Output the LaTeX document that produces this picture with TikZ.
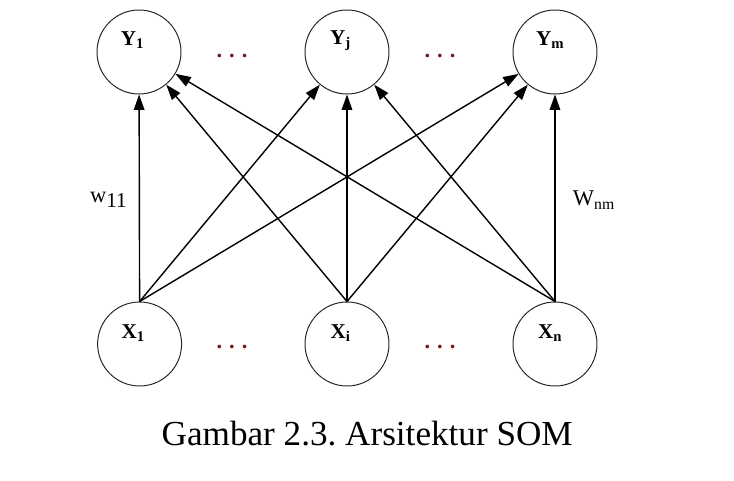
\documentclass[tikz,border=0pt]{standalone}
\usepackage{fontspec}
\setmainfont{Liberation Serif}
\usetikzlibrary{arrows.meta, calc}
\frenchspacing

\definecolor{dotred}{RGB}{120,24,24}

\tikzset{
  neuron/.style={circle, draw=black!85, line width=0.7pt,
                 minimum size=2.1cm, inner sep=0pt},
  unitlbl/.style={font=\fontsize{15}{17}\selectfont\bfseries, inner sep=0pt},
  dotsrow/.style={font=\fontsize{16}{18}\selectfont\bfseries, text=dotred},
  wlbl/.style={font=\fontsize{16}{18}\selectfont, inner sep=0pt},
  link/.style={line width=1pt, -{Triangle[length=11pt, width=7.5pt]}}
}

\begin{document}
\begin{tikzpicture}
    \useasboundingbox (0,0) rectangle (18.35,12);

    % output layer
    \node[neuron](y1) at (3.475,10.7){};
    \node[neuron](yj) at (8.675,10.7){};
    \node[neuron](ym) at (13.875,10.7){};
    \node[unitlbl] at ($(y1)+(-0.16,0.29)$) {Y\textsubscript{1}};
    \node[unitlbl] at ($(yj)+(-0.16,0.29)$) {Y\textsubscript{j}};
    \node[unitlbl] at ($(ym)+(-0.12,0.29)$) {Y\textsubscript{m}};
    \node[dotsrow](dy1) at (5.8,10.6){.\hspace{5pt}.\hspace{5pt}.};
    \node[dotsrow](dy2) at (11.0,10.6){.\hspace{5pt}.\hspace{5pt}.};

    % input layer
    \node[neuron](x1) at (3.49,3.4){};
    \node[neuron](xi) at (8.675,3.4){};
    \node[neuron](xn) at (13.875,3.4){};
    \node[unitlbl] at ($(x1)+(-0.16,0.28)$) {X\textsubscript{1}};
    \node[unitlbl] at ($(xi)+(-0.16,0.28)$) {X\textsubscript{i}};
    \node[unitlbl] at ($(xn)+(-0.12,0.28)$) {X\textsubscript{n}};
    \node[dotsrow](dx1) at (5.8,3.32){.\hspace{5pt}.\hspace{5pt}.};
    \node[dotsrow](dx2) at (11.0,3.32){.\hspace{5pt}.\hspace{5pt}.};

    % weights, every input to every output
    \draw[link] (x1.north) -- (y1);
    \draw[link] (x1.north) -- (yj);
    \draw[link] (x1.north) -- (ym);
    \draw[link] (xi.north) -- (y1);
    \draw[link] (xi.north) -- (yj);
    \draw[link] (xi.north) -- (ym);
    \draw[link] (xn.north) -- (y1);
    \draw[link] (xn.north) -- (yj);
    \draw[link] (xn.north) -- (ym);

    \node[wlbl](w11) at (2.72,7.0){w\textsubscript{\fontsize{15}{16}\selectfont 11}};
    \node[wlbl](wnm) at (14.85,7.0){W\textsubscript{nm}};

    \node[font=\fontsize{25}{30}\selectfont](cap) at (9.18,1.15)
         {Gambar 2.3. Arsitektur SOM};
\end{tikzpicture}
\end{document}
